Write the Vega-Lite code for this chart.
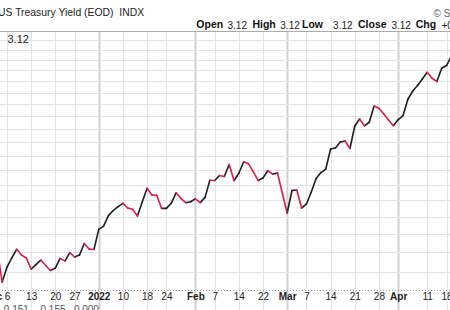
{
  "$schema": "https://vega.github.io/schema/vega-lite/v6.json",
  "width": 450,
  "height": 259,
  "autosize": {"type": "none"},
  "padding": {"left": 0, "top": 31, "right": 0, "bottom": 20},
  "background": "white",
  "config": {"font": "Liberation Sans", "view": {"stroke": null}},
  "title": {
    "text": "US Treasury Yield (EOD)\u00a0\u00a0INDX",
    "subtitle": "\u200b\u00a0\u00a0\u00a0\u00a0\u00a0\u00a0\u00a0\u00a0\u00a0\u00a0\u00a0\u00a0\u00a0\u00a0\u00a0\u00a0\u00a0\u00a0\u00a0\u00a0\u00a0\u00a0\u00a0\u00a0\u00a0\u00a0\u00a0\u00a0\u00a0\u00a0\u00a0\u00a0\u00a0\u00a0\u00a0\u00a0\u00a0\u00a0\u00a0\u00a0\u00a0\u00a0\u00a0\u00a0\u00a0\u00a0\u00a0\u00a0\u00a0\u00a0\u00a0\u00a0\u00a0\u00a0\u00a0\u00a0\u00a0\u00a0\u00a0\u00a0\u00a0\u00a0\u00a0\u00a0\u00a0\u00a0\u00a0\u00a0Open\u00a0\u00a0\u00a0\u00a0\u00a0\u00a0\u00a0\u00a0\u00a0\u00a0High\u00a0\u00a0\u00a0\u00a0\u00a0\u00a0\u00a0\u00a0\u00a0Low\u00a0\u00a0\u00a0\u00a0\u00a0\u00a0\u00a0\u00a0\u00a0\u00a0\u00a0\u00a0Close\u00a0\u00a0\u00a0\u00a0\u00a0\u00a0\u00a0\u00a0\u00a0\u00a0Chg",
    "anchor": "start",
    "frame": "group",
    "dx": -2,
    "offset": -22,
    "fontSize": 10.4,
    "fontWeight": "normal",
    "color": "#222222",
    "subtitleFontSize": 10.5,
    "subtitleFontWeight": "bold",
    "subtitleColor": "#111111",
    "subtitlePadding": 1
  },
  "data": {
    "values": [
      {"d": "2021-12-01", "v": 1.690},
      {"d": "2021-12-02", "v": 1.712},
      {"d": "2021-12-03", "v": 1.549},
      {"d": "2021-12-06", "v": 1.623},
      {"d": "2021-12-07", "v": 1.670},
      {"d": "2021-12-08", "v": 1.716},
      {"d": "2021-12-09", "v": 1.685},
      {"d": "2021-12-10", "v": 1.670},
      {"d": "2021-12-13", "v": 1.613},
      {"d": "2021-12-14", "v": 1.636},
      {"d": "2021-12-15", "v": 1.659},
      {"d": "2021-12-16", "v": 1.631},
      {"d": "2021-12-17", "v": 1.606},
      {"d": "2021-12-20", "v": 1.618},
      {"d": "2021-12-21", "v": 1.668},
      {"d": "2021-12-22", "v": 1.654},
      {"d": "2021-12-23", "v": 1.698},
      {"d": "2021-12-27", "v": 1.675},
      {"d": "2021-12-28", "v": 1.685},
      {"d": "2021-12-29", "v": 1.747},
      {"d": "2021-12-30", "v": 1.717},
      {"d": "2021-12-31", "v": 1.715},
      {"d": "2022-01-03", "v": 1.826},
      {"d": "2022-01-04", "v": 1.845},
      {"d": "2022-01-05", "v": 1.906},
      {"d": "2022-01-06", "v": 1.937},
      {"d": "2022-01-07", "v": 1.961},
      {"d": "2022-01-10", "v": 1.981},
      {"d": "2022-01-11", "v": 1.952},
      {"d": "2022-01-12", "v": 1.944},
      {"d": "2022-01-13", "v": 1.904},
      {"d": "2022-01-14", "v": 1.989},
      {"d": "2022-01-18", "v": 2.076},
      {"d": "2022-01-19", "v": 2.033},
      {"d": "2022-01-20", "v": 2.031},
      {"d": "2022-01-21", "v": 1.950},
      {"d": "2022-01-24", "v": 1.950},
      {"d": "2022-01-25", "v": 1.981},
      {"d": "2022-01-26", "v": 2.047},
      {"d": "2022-01-27", "v": 2.012},
      {"d": "2022-01-28", "v": 1.985},
      {"d": "2022-01-31", "v": 1.991},
      {"d": "2022-02-01", "v": 2.009},
      {"d": "2022-02-02", "v": 1.985},
      {"d": "2022-02-03", "v": 2.018},
      {"d": "2022-02-04", "v": 2.129},
      {"d": "2022-02-07", "v": 2.127},
      {"d": "2022-02-08", "v": 2.161},
      {"d": "2022-02-09", "v": 2.154},
      {"d": "2022-02-10", "v": 2.236},
      {"d": "2022-02-11", "v": 2.127},
      {"d": "2022-02-14", "v": 2.176},
      {"d": "2022-02-15", "v": 2.256},
      {"d": "2022-02-16", "v": 2.241},
      {"d": "2022-02-17", "v": 2.185},
      {"d": "2022-02-18", "v": 2.127},
      {"d": "2022-02-22", "v": 2.144},
      {"d": "2022-02-23", "v": 2.193},
      {"d": "2022-02-24", "v": 2.170},
      {"d": "2022-02-25", "v": 2.178},
      {"d": "2022-02-28", "v": 2.046},
      {"d": "2022-03-01", "v": 1.922},
      {"d": "2022-03-02", "v": 2.062},
      {"d": "2022-03-03", "v": 2.065},
      {"d": "2022-03-04", "v": 1.952},
      {"d": "2022-03-07", "v": 1.977},
      {"d": "2022-03-08", "v": 2.052},
      {"d": "2022-03-09", "v": 2.141},
      {"d": "2022-03-10", "v": 2.181},
      {"d": "2022-03-11", "v": 2.205},
      {"d": "2022-03-14", "v": 2.347},
      {"d": "2022-03-15", "v": 2.355},
      {"d": "2022-03-16", "v": 2.399},
      {"d": "2022-03-17", "v": 2.407},
      {"d": "2022-03-18", "v": 2.351},
      {"d": "2022-03-21", "v": 2.522},
      {"d": "2022-03-22", "v": 2.578},
      {"d": "2022-03-23", "v": 2.524},
      {"d": "2022-03-24", "v": 2.552},
      {"d": "2022-03-25", "v": 2.685},
      {"d": "2022-03-28", "v": 2.666},
      {"d": "2022-03-29", "v": 2.619},
      {"d": "2022-03-30", "v": 2.570},
      {"d": "2022-03-31", "v": 2.525},
      {"d": "2022-04-01", "v": 2.574},
      {"d": "2022-04-04", "v": 2.606},
      {"d": "2022-04-05", "v": 2.742},
      {"d": "2022-04-06", "v": 2.814},
      {"d": "2022-04-07", "v": 2.863},
      {"d": "2022-04-08", "v": 2.921},
      {"d": "2022-04-11", "v": 2.983},
      {"d": "2022-04-12", "v": 2.928},
      {"d": "2022-04-13", "v": 2.899},
      {"d": "2022-04-14", "v": 3.021},
      {"d": "2022-04-18", "v": 3.047},
      {"d": "2022-04-19", "v": 3.139}
    ]
  },
  "transform": [
    {"window": [{"op": "lead", "field": "d", "as": "d2"}, {"op": "lead", "field": "v", "as": "v2"}], "sort": [{"field": "d", "order": "ascending"}]},
    {"filter": "datum.d2 != null"}
  ],
  "layer": [
    {
      "transform": [{"filter": "datum.v2 >= datum.v"}],
      "mark": {"type": "rule", "strokeWidth": 1.6, "strokeCap": "round", "color": "#1e1e1e", "clip": true},
      "encoding": {
        "x": {
          "field": "d",
          "type": "ordinal",
          "scale": {"type": "point", "range": [-7.49, 451.36], "padding": 0},
          "axis": {
            "orient": "bottom",
            "values": ["2021-12-01", "2021-12-06", "2021-12-13", "2021-12-20", "2021-12-27", "2022-01-03", "2022-01-10", "2022-01-18", "2022-01-24", "2022-02-01", "2022-02-07", "2022-02-14", "2022-02-22", "2022-03-01", "2022-03-07", "2022-03-14", "2022-03-21", "2022-03-28", "2022-04-01", "2022-04-11", "2022-04-18"],
            "labelExpr": "datum.value == '2021-12-01' ? 'Dec' : datum.value == '2022-01-03' ? '2022' : datum.value == '2022-02-01' ? 'Feb' : datum.value == '2022-03-01' ? 'Mar' : datum.value == '2022-04-01' ? 'Apr' : '' + toNumber(substring(datum.value, 8, 10))",
            "labelFontSize": 10,
            "labelColor": "#222222",
            "labelFontWeight": {"condition": {"test": "indexof(['2021-12-01','2022-01-03','2022-02-01','2022-03-01','2022-04-01'], datum.value) >= 0", "value": "bold"}, "value": "normal"},
            "labelAngle": 0,
            "labelOverlap": false,
            "labelFlush": false,
            "labelBound": false,
            "labelPadding": -19,
            "ticks": true,
            "tickSize": 20,
            "tickColor": {"condition": {"test": "indexof(['2021-12-01','2022-01-03','2022-02-01','2022-03-01','2022-04-01'], datum.value) >= 0", "value": "#d0d0d0"}, "value": "#e4e4e4"},
            "tickWidth": {"condition": {"test": "indexof(['2021-12-01','2022-01-03','2022-02-01','2022-03-01','2022-04-01'], datum.value) >= 0", "value": 2}, "value": 1},
            "grid": true,
            "gridColor": {"condition": {"test": "indexof(['2021-12-01','2022-01-03','2022-02-01','2022-03-01','2022-04-01'], datum.value) >= 0", "value": "#d0d0d0"}, "value": "#e4e4e4"},
            "gridWidth": {"condition": {"test": "indexof(['2021-12-01','2022-01-03','2022-02-01','2022-03-01','2022-04-01'], datum.value) >= 0", "value": 2}, "value": 1},
            "domain": true,
            "domainColor": "#999999",
            "domainDash": [1, 2],
            "title": "\u00a0-0.151\u00a0\u00a0\u00a0-0.155\u00a0\u00a0\u00a00.000",
            "titleX": 0,
            "titleY": 19,
            "titleAlign": "left",
            "titleBaseline": "middle",
            "titleFontSize": 10,
            "titleFontWeight": "normal",
            "titleColor": "#555555"
          }
        },
        "x2": {"field": "d2"},
        "y": {
          "field": "v",
          "type": "quantitative",
          "scale": {"type": "log", "domain": [1.5109, 3.3941], "nice": false},
          "axis": {
            "orient": "left",
            "values": [1.6, 1.7, 1.8, 1.9, 2.0, 2.1, 2.2, 2.3, 2.4, 2.5, 2.6, 2.7, 2.8, 2.9, 3.0, 3.1, 3.2, 3.3],
            "grid": true,
            "gridColor": "#e4e4e4",
            "labels": false,
            "ticks": false,
            "domain": false,
            "title": "3.12",
            "titleX": 7,
            "titleY": 8,
            "titleAngle": 0,
            "titleAlign": "left",
            "titleBaseline": "middle",
            "titleFontSize": 11,
            "titleFontWeight": "normal",
            "titleColor": "#222222"
          }
        },
        "y2": {"field": "v2"}
      }
    },
    {
      "transform": [{"filter": "datum.v2 < datum.v"}],
      "mark": {"type": "rule", "strokeWidth": 1.6, "strokeCap": "round", "color": "#d81e4b", "clip": true},
      "encoding": {
        "x": {
          "field": "d",
          "type": "ordinal",
          "axis": {
            "orient": "top",
            "labels": false,
            "ticks": false,
            "grid": false,
            "domain": true,
            "domainColor": "#aaaaaa",
            "title": "3.12\u00a0\u00a0\u00a0\u00a0\u00a0\u00a0\u00a0\u00a0\u00a0\u00a0\u00a0\u00a03.12\u00a0\u00a0\u00a0\u00a0\u00a0\u00a0\u00a0\u00a0\u00a0\u00a0\u00a0\u00a03.12\u00a0\u00a0\u00a0\u00a0\u00a0\u00a0\u00a0\u00a0\u00a0\u00a0\u00a0\u00a0\u00a0\u00a03.12\u00a0\u00a0\u00a0\u00a0\u00a0\u00a0\u00a0\u00a0\u00a0\u00a0\u00a0+0.00 (+0.00%)",
            "titleX": 227,
            "titleY": -6,
            "titleAlign": "left",
            "titleBaseline": "middle",
            "titleFontSize": 10,
            "titleFontWeight": "normal",
            "titleColor": "#222222"
          }
        },
        "x2": {"field": "d2"},
        "y": {
          "field": "v",
          "type": "quantitative",
          "axis": {
            "orient": "right",
            "labels": false,
            "ticks": false,
            "grid": false,
            "domain": false,
            "title": "\u00a9 StockCharts.com",
            "titleX": -17,
            "titleY": -18,
            "titleAngle": 0,
            "titleAlign": "left",
            "titleBaseline": "middle",
            "titleFontSize": 10,
            "titleFontWeight": "normal",
            "titleColor": "#666666"
          }
        },
        "y2": {"field": "v2"}
      }
    }
  ],
  "resolve": {"axis": {"x": "independent", "y": "independent"}}
}
